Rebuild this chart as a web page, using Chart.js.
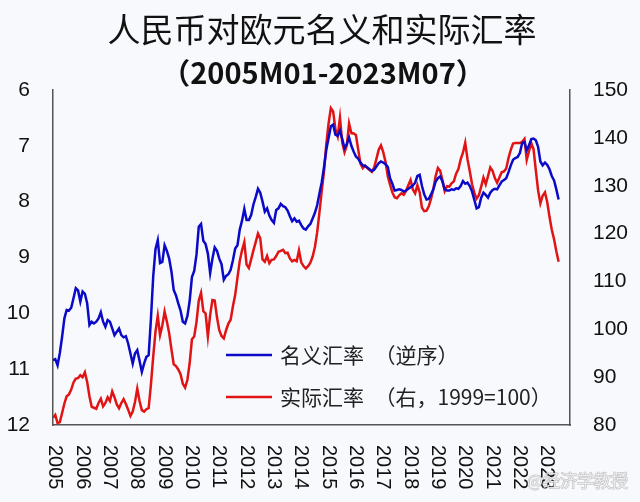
<!DOCTYPE html>
<html>
<head>
<meta charset="utf-8">
<script src="https://cdn.jsdelivr.net/npm/chart.js@4.4.1/dist/chart.umd.min.js"></script>
<style>
  html, body { margin: 0; padding: 0; background: #f8f9fc; }
  #wrap { width: 640px; height: 502px; }
</style>
</head>
<body>
<div id="wrap"><canvas id="rateChart" width="640" height="502"></canvas></div>
<script>
const years = ['2005', '2006', '2007', '2008', '2009', '2010', '2011', '2012', '2013', '2014',
    '2015', '2016', '2017', '2018', '2019', '2020', '2021', '2022', '2023'];

// 名义汇率 (EUR/CNY, left axis, reversed), monthly 2005M01-2023M07
const nominal = [
    10.84, 10.82, 10.93, 10.71, 10.42, 10.09, 9.94, 9.95, 9.90, 9.73, 9.55, 9.59,
    9.79, 9.61, 9.65, 9.82, 10.21, 10.15, 10.18, 10.15, 10.09, 9.98, 10.15, 10.24,
    10.12, 10.15, 10.27, 10.39, 10.33, 10.27, 10.39, 10.43, 10.41, 10.54, 10.72, 10.90,
    10.72, 10.66, 10.85, 11.05, 10.90, 10.78, 10.75, 10.10, 9.34, 8.85, 8.69, 9.10,
    9.08, 8.78, 8.88, 9.02, 9.25, 9.58, 9.68, 9.82, 9.95, 10.15, 10.18, 10.05,
    9.78, 9.35, 9.24, 8.95, 8.45, 8.40, 8.70, 8.76, 8.93, 9.28, 9.02, 8.82,
    8.88, 9.02, 9.12, 9.40, 9.33, 9.30, 9.22, 9.05, 8.84, 8.78, 8.50, 8.34,
    8.13, 8.33, 8.33, 8.24, 8.05, 7.92, 7.77, 7.84, 8.00, 8.18, 8.12, 8.25,
    8.33, 8.38, 8.15, 8.12, 8.04, 8.08, 8.10, 8.16, 8.26, 8.35, 8.30, 8.36,
    8.34, 8.42, 8.48, 8.50, 8.44, 8.40, 8.30, 8.20, 8.06, 7.85, 7.65, 7.38,
    7.07, 6.86, 6.65, 6.62, 6.80, 6.82, 6.73, 6.88, 7.04, 6.97, 6.85, 7.00,
    7.10, 7.19, 7.23, 7.30, 7.35, 7.36, 7.39, 7.42, 7.45, 7.43, 7.37, 7.31,
    7.28, 7.30, 7.33, 7.38, 7.58, 7.68, 7.80, 7.79, 7.78, 7.79, 7.82, 7.80,
    7.77, 7.74, 7.71, 7.66, 7.54, 7.52, 7.72, 7.87, 7.96, 7.95, 7.87, 7.78,
    7.64, 7.58, 7.55, 7.64, 7.78, 7.80, 7.80, 7.78, 7.79, 7.76, 7.77, 7.72,
    7.63, 7.68, 7.66, 7.72, 7.82, 7.97, 8.12, 8.10, 7.93, 7.84, 7.88, 7.93,
    7.84, 7.79, 7.77, 7.78, 7.71, 7.64, 7.61, 7.58, 7.47, 7.35, 7.25, 7.22,
    7.20, 7.13, 6.95, 6.93, 7.08, 6.99, 6.88, 6.87, 6.90, 7.02, 7.28, 7.35,
    7.30, 7.34, 7.42, 7.54, 7.62, 7.78, 7.96
];

// 实际汇率 (right axis, 1999=100), monthly 2005M01-2023M07
const real = [
    81.5, 82.1, 80.4, 80.6, 82.5, 84.5, 86.0, 86.4, 87.4, 88.9, 89.7, 89.8,
    90.4, 90.0, 91.0, 89.0, 86.0, 83.8, 83.6, 83.4, 84.6, 85.5, 83.9, 84.6,
    85.8, 85.0, 87.0, 85.8, 84.3, 83.5, 84.6, 85.4, 84.4, 83.2, 81.9, 82.8,
    84.8, 87.6, 85.0, 83.1, 82.8, 83.3, 83.5, 88.5, 94.3, 99.5, 102.8, 98.8,
    100.8, 103.7, 101.6, 99.2, 95.8, 92.7, 92.3, 91.6, 90.6, 88.6, 87.8, 89.4,
    92.9, 97.9, 98.5, 101.5, 106.0, 107.6, 103.8, 103.3, 98.5, 103.0, 106.1, 106.0,
    102.5, 99.8, 98.6, 98.1, 99.8, 101.2, 102.0, 104.8, 107.2, 110.8, 114.3, 116.5,
    118.2, 113.5, 112.8, 114.6, 116.5, 118.2, 120.0, 119.0, 114.6, 114.1, 115.3, 113.8,
    114.5, 114.6, 115.3, 116.2, 116.4, 116.6, 115.9, 116.0, 114.8, 114.2, 114.5, 114.2,
    116.5, 114.0, 113.2, 112.7, 113.2, 113.9, 115.2, 117.2, 120.3, 124.5, 128.9, 133.0,
    138.7, 143.0, 146.2, 145.5, 141.8, 140.3, 144.2, 139.0, 137.0, 138.4, 143.0, 141.0,
    140.9, 140.6, 137.6, 134.6, 133.7, 134.2, 133.7, 133.3, 132.9, 133.8, 135.6, 137.5,
    138.4, 137.0, 135.0, 132.0, 130.2, 128.6, 127.6, 127.4, 128.0, 128.4, 128.1, 128.9,
    130.1, 131.2, 129.2, 128.4, 130.1, 128.6, 125.4, 124.7, 124.8, 125.7, 127.3, 129.3,
    132.0, 133.7, 133.1, 131.2, 128.9, 129.9, 129.8, 130.5, 130.9, 132.5, 133.5, 135.5,
    136.9, 139.0, 135.5, 133.0, 130.3, 128.5, 127.3, 128.0, 129.8, 131.7, 130.3, 132.0,
    133.8, 133.1, 131.6, 130.6, 131.7, 132.8, 133.0, 133.6, 135.8, 137.5, 138.8, 138.9,
    138.9, 138.9, 139.2, 139.8, 135.4, 137.2, 138.9, 137.6, 133.2, 129.0, 126.3, 127.9,
    128.6, 126.6, 123.5, 120.8, 118.8, 116.3, 114.1
];

const leftTicks = [6, 7, 8, 9, 10, 11, 12];
const rightTicks = [80, 90, 100, 110, 120, 130, 140, 150];

const axisColor = '#555555';
const numFont = { family: 'Liberation Sans', size: 21 };

const drawDecor = {
    id: 'drawDecor',
    beforeDraw(chart) {
        const { ctx, width, height } = chart;
        ctx.save();
        ctx.fillStyle = '#f8f9fc';
        ctx.fillRect(0, 0, width, height);
        ctx.restore();
    },
    afterDraw(chart) {
        const { ctx, chartArea } = chart;
        const xScale = chart.scales.x;
        ctx.save();

        // titles
        ctx.fillStyle = '#111';
        ctx.textAlign = 'center';
        ctx.textBaseline = 'middle';
        ctx.font = '33px "Noto Sans CJK SC"';
        ctx.fillText('人民币对欧元名义和实际汇率', 322, 29);
        ctx.font = 'bold 29px "Noto Sans CJK SC"';
        ctx.fillText('（2005M01-2023M07）', 323, 73);

        // rotated year labels
        ctx.font = '20px "Liberation Sans"';
        ctx.fillStyle = '#111';
        years.forEach((label, i) => {
            const px = xScale.getPixelForValue(i * 12) + 2;
            ctx.save();
            ctx.translate(px, chartArea.bottom + 20);
            ctx.rotate(Math.PI / 2);
            ctx.textAlign = 'left';
            ctx.textBaseline = 'middle';
            ctx.fillText(label, 0, 0);
            ctx.restore();
        });

        // legend inside plot
        const items = chart.data.datasets;
        const lx = chartArea.left + 173;
        const ly = [chartArea.top + 265, chartArea.top + 307];
        ctx.font = '21px "Noto Sans CJK SC"';
        ctx.textAlign = 'left';
        ctx.textBaseline = 'middle';
        items.forEach((ds, i) => {
            ctx.strokeStyle = ds.borderColor;
            ctx.lineWidth = 2.5;
            ctx.beginPath();
            ctx.moveTo(lx, ly[i]);
            ctx.lineTo(lx + 46, ly[i]);
            ctx.stroke();
            ctx.fillStyle = '#222';
            ctx.fillText(ds.label, lx + 54, ly[i]);
        });

        // watermark
        ctx.font = '17px "Noto Sans CJK SC"';
        ctx.textAlign = 'right';
        ctx.lineWidth = 1;
        ctx.strokeStyle = 'rgba(120,120,120,0.5)';
        ctx.strokeText('@经济学教授', 628, 481);
        ctx.fillStyle = 'rgba(240,240,240,0.9)';
        ctx.fillText('@经济学教授', 628, 481);
        ctx.restore();
    },
};

new Chart(document.getElementById('rateChart'), {
    type: 'line',
    data: {
        datasets: [
            {
                label: '名义汇率　（逆序）',
                data: nominal.map((v, i) => ({ x: i, y: v })),
                borderColor: '#0a0ac8',
                borderWidth: 2.5,
                pointRadius: 0,
                tension: 0,
                yAxisID: 'yLeft',
            },
            {
                label: '实际汇率　（右，1999=100）',
                data: real.map((v, i) => ({ x: i, y: v })),
                borderColor: '#e01414',
                borderWidth: 2.5,
                pointRadius: 0,
                tension: 0,
                yAxisID: 'yRight',
            },
        ],
    },
    options: {
        responsive: false,
        animation: false,
        layout: {
            padding: { top: 90, left: 0, right: 0, bottom: 0 },
        },
        plugins: {
            legend: { display: false },
            tooltip: { enabled: false },
        },
        scales: {
            x: {
                type: 'linear',
                min: 0,
                max: 227,
                grid: { drawOnChartArea: false, drawTicks: false },
                border: { display: true, color: axisColor, width: 1.5 },
                ticks: { display: false, stepSize: 12 },
                afterFit(scale) {
                    scale.height = 77;
                },
            },
            yLeft: {
                position: 'left',
                reverse: true,
                min: 6,
                max: 12,
                grid: { drawOnChartArea: false, drawTicks: false },
                border: { display: true, color: axisColor, width: 1.5 },
                ticks: { color: '#111', font: numFont, padding: 23 },
                afterBuildTicks(scale) {
                    scale.ticks = leftTicks.map((v) => ({ value: v }));
                },
                afterFit(scale) {
                    scale.width = 53;
                },
            },
            yRight: {
                position: 'right',
                min: 80,
                max: 150,
                grid: { drawOnChartArea: false, drawTicks: false },
                border: { display: true, color: axisColor, width: 1.5 },
                ticks: { color: '#111', font: numFont, padding: 23 },
                afterBuildTicks(scale) {
                    scale.ticks = rightTicks.map((v) => ({ value: v }));
                },
                afterFit(scale) {
                    scale.width = 70;
                },
            },
        },
    },
    plugins: [drawDecor],
});
</script>
</body>
</html>
